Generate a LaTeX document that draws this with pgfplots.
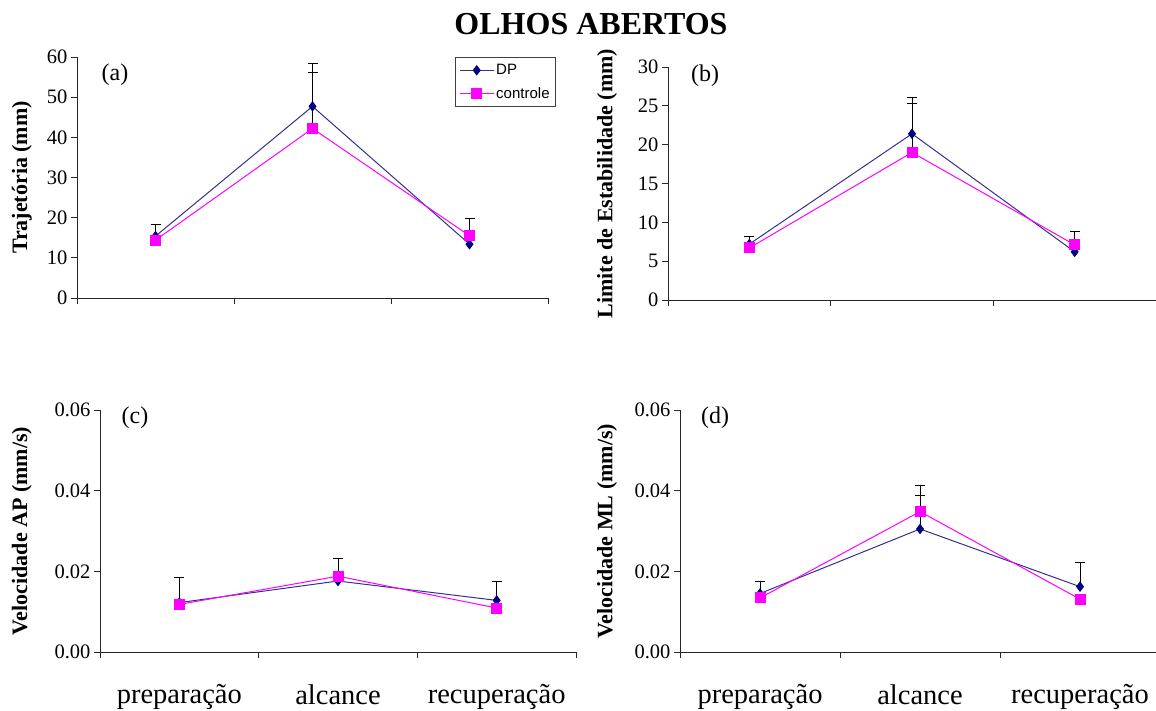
\documentclass[border=0pt]{standalone}
\usepackage{fontspec}
\setmainfont{Liberation Serif}
\newfontfamily\legfont{Liberation Sans}
\usepackage{pgfplots}
\pgfplotsset{compat=1.18}
\definecolor{dpblue}{RGB}{0,0,128}
\definecolor{dpline}{RGB}{50,50,140}
\definecolor{ctrl}{RGB}{255,0,255}

\pgfplotsset{
  panel/.style={
    scale only axis,
    axis x line=bottom, axis y line=left,
    axis line style={-, line width=0.9pt, black!85},
    tick align=outside,
    major tick length=6pt,
    every tick/.style={line width=0.9pt, black!85},
    xmin=-0.5, xmax=2.5, ymin=0,
    xtick={-0.5,0.5,1.5,2.5}, xticklabels={},
    tick label style={font=\fontsize{20.5}{20.5}\selectfont},
    /pgf/number format/assume math mode=true,
    scaled y ticks=false,
    ylabel style={font=\bfseries\fontsize{22}{22}\selectfont, anchor=center},
    clip=false,
  },
  catlabels/.style={
    extra x ticks={0,1,2},
    extra x tick labels={preparação,alcance,recuperação},
    extra x tick style={major tick length=0pt,
      tick label style={font=\fontsize{28.5}{28.5}\selectfont, yshift=-29pt}},
  },
  dp/.style={color=dpline, line width=1pt, mark=diamond*, mark size=4.5pt,
    mark options={fill=dpblue, draw=dpblue, solid}},
  ct/.style={color=ctrl, line width=1pt, mark=square*, mark size=5pt,
    mark options={fill=ctrl, draw=ctrl, solid}},
  eb/.style={draw=none, mark=none, forget plot,
    error bars/.cd, y dir=plus, y explicit,
    error bar style={draw=black, line width=0.9pt, solid},
    error mark options={rotate=90, draw=black, line width=0.9pt, mark size=5pt}},
}

\begin{document}
\begin{tikzpicture}
\useasboundingbox (0pt,0pt) rectangle (1156pt,710pt);

\node[font=\bfseries\fontsize{32}{32}\selectfont, anchor=base] at (591pt,675pt) {OLHOS ABERTOS};

% (a)
\begin{axis}[panel, at={(77pt,412pt)}, anchor=south west, width=471pt, height=241pt,
  ymax=60, ytick={0,10,...,60},
  ylabel={Trajetória (mm)}, ylabel style={at={(axis description cs:-0.117,0.5)}},
  legend style={at={(rel axis cs:1.017,1.0)}, anchor=north east,
    font=\legfont\fontsize{15}{15}\selectfont, draw=black!75, line width=0.8pt,
    inner xsep=4pt, inner ysep=5pt, row sep=7pt},
  legend cell align=left,
  legend image code/.code={\draw[mark repeat=2,mark phase=2,#1] plot coordinates {(0pt,0pt) (17pt,0pt) (34pt,0pt)};},
]
\addplot[eb] coordinates {(0,15.4) +- (0,2.9) (1,47.7) +- (0,10.8) (2,13.4) +- (0,6.4)};
\addplot[eb] coordinates {(1,42.2) +- (0,14.0)};
\addplot[dp] coordinates {(0,15.4) (1,47.7) (2,13.4)};
\addplot[ct] coordinates {(0,14.4) (1,42.2) (2,15.5)};
\legend{DP,controle}
\end{axis}

% (b)
\begin{axis}[panel, at={(668pt,410pt)}, anchor=south west, width=488pt, height=233pt,
  ymax=30, ytick={0,5,...,30},
  ylabel={Limite de Estabilidade (mm)}, ylabel style={at={(axis description cs:-0.125,0.5)}},
]
\addplot[eb] coordinates {(0,7.2) +- (0,1.0) (1,21.4) +- (0,4.7) (2,6.2) +- (0,2.6)};
\addplot[eb] coordinates {(1,19.0) +- (0,6.3)};
\addplot[dp] coordinates {(0,7.2) (1,21.4) (2,6.2)};
\addplot[ct] coordinates {(0,6.7) (1,19.0) (2,7.1)};
\end{axis}

% (c)
\begin{axis}[panel, catlabels, at={(100pt,58pt)}, anchor=south west, width=476pt, height=242pt,
  ymax=0.06, ytick={0,0.02,0.04,0.06}, yticklabels={0.00,0.02,0.04,0.06},
  ylabel={Velocidade AP (mm/s)}, ylabel style={at={(axis description cs:-0.164,0.5)}},
]
\addplot[eb] coordinates {(0,0.01225) +- (0,0.00625) (1,0.0176) +- (0,0.0056) (2,0.0128) +- (0,0.0048)};
\addplot[dp] coordinates {(0,0.01225) (1,0.0176) (2,0.0128)};
\addplot[ct] coordinates {(0,0.0118) (1,0.0188) (2,0.0109)};
\end{axis}

% (d)
\begin{axis}[panel, catlabels, at={(680pt,58pt)}, anchor=south west, width=480pt, height=242pt,
  ymax=0.06, ytick={0,0.02,0.04,0.06}, yticklabels={0.00,0.02,0.04,0.06},
  ylabel={Velocidade ML (mm/s)}, ylabel style={at={(axis description cs:-0.152,0.5)}},
]
\addplot[eb] coordinates {(0,0.0145) +- (0,0.0029) (1,0.0305) +- (0,0.0109) (2,0.0162) +- (0,0.0061)};
\addplot[eb] coordinates {(1,0.0348) +- (0,0.0041)};
\addplot[dp] coordinates {(0,0.0145) (1,0.0305) (2,0.0162)};
\addplot[ct] coordinates {(0,0.0134) (1,0.0348) (2,0.0131)};
\end{axis}

\node[font=\fontsize{24}{24}\selectfont] at (115pt,635pt) {(a)};
\node[font=\fontsize{24}{24}\selectfont] at (705pt,634pt) {(b)};
\node[font=\fontsize{24}{24}\selectfont] at (135pt,292pt) {(c)};
\node[font=\fontsize{24}{24}\selectfont] at (715pt,292pt) {(d)};
\end{tikzpicture}
\end{document}
